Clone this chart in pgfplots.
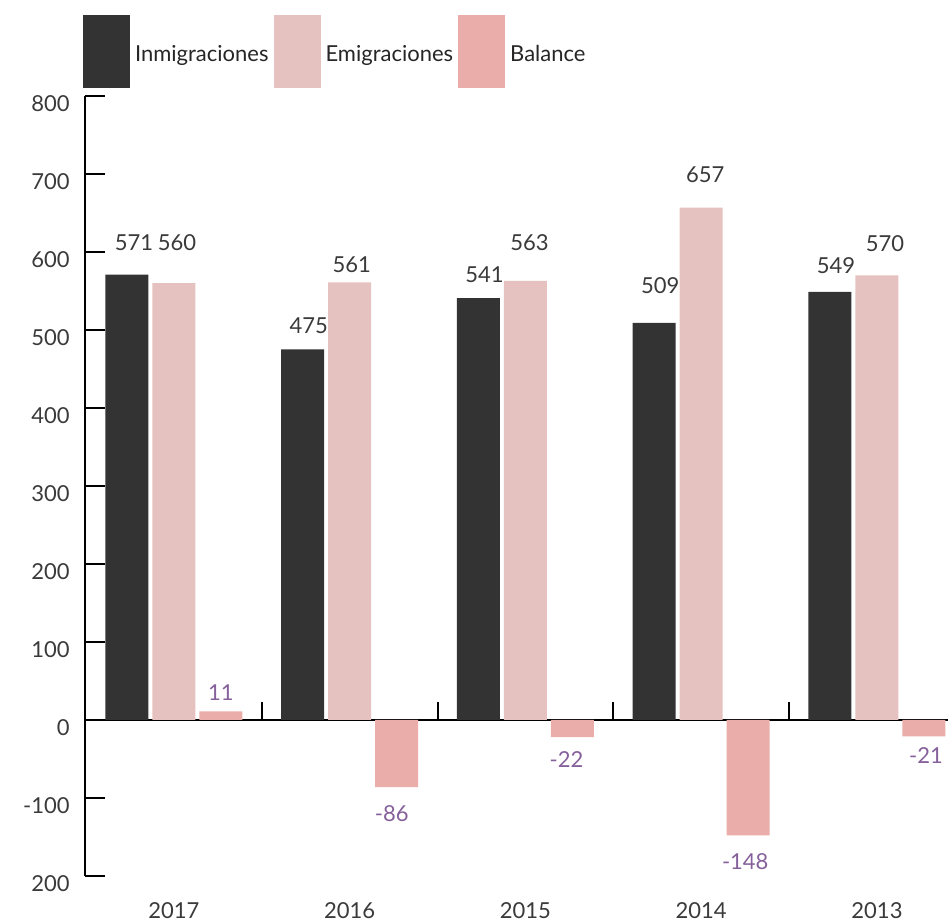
\documentclass[border=0pt]{standalone}
\usepackage{fontspec}
\setmainfont{Lato}
\usepackage{pgfplots}
\usepackage{pgfplotstable}
\pgfplotsset{compat=1.18}

\definecolor{inmig}{HTML}{333333}
\definecolor{emig}{HTML}{E5C2BF}
\definecolor{bal}{HTML}{EAADAA}
\definecolor{txt}{HTML}{3A3A3A}
\definecolor{baltxt}{HTML}{85609A}

% x, value, label shift (pt) for each series
\pgfplotstableread{
x imm idx idy emi edx edy bal bdx bdy
0 571 3.5 16   560 1.5 20.5 11   0    9.5
1 475 3   12   561 1   9    -86  -2.5 -13.5
2 541 3   11.5 563 2   19   -22  -3   -11
3 509 3   18.5 657 2   16.5 -148 -1.5 -13
4 549 3   13   570 4   16   -21  1    -9.5
}\datos

\newcommand{\lblfont}{\fontsize{11}{13}\selectfont}
\pgfplotsset{
  blk/.style={legend image code/.code={\fill[##1] (0pt,-16.5pt) rectangle (23.5pt,20pt);}},
}

\begin{document}
\begin{tikzpicture}
\begin{axis}[
    name=main, at={(0,0)}, anchor=south west,
    scale only axis, width=431.5pt, height=390pt,
    ybar=2pt, bar width=21.5pt,
    xmin=-0.506, xmax=4.404, ymin=-200, ymax=800,
    axis x line=bottom, axis y line=left, axis line style={-},
    x axis line style={draw=none},
    y axis line style={black, line width=1pt},
    xtick={0,...,4}, xticklabels={2017,2016,2015,2014,2013},
    xtick style={draw=none},
    ytick={-200,-100,...,800},
    yticklabels={200,-100,0,100,200,300,400,500,600,700,800},
    ytick style={black, line width=1pt},
    tick align=inside, major tick length=10pt,
    extra y ticks={0}, extra y tick labels={},
    extra y tick style={grid=major, major grid style={black, line width=1pt}},
    xticklabel style={font=\lblfont, text=txt, anchor=center, inner sep=0pt, yshift=-17.5pt},
    yticklabel style={font=\lblfont, text=txt, anchor=east, inner sep=0pt, xshift=-7.5pt, yshift=-4pt},
    legend columns=-1,
    legend style={draw=none, fill=none, at={(0,1)}, anchor=south west,
      xshift=-1pt, yshift=4pt, inner sep=0pt, outer sep=0pt,
      font=\lblfont, text=black!85, nodes={inner sep=0pt},
      /tikz/every odd column/.append style={column sep=2.5pt},
      /tikz/every even column/.append style={column sep=2.5pt}},
    every axis plot post/.append style={blk},
    clip=false,
]
\addplot[fill=inmig, draw=none, nodes near coords, point meta=explicit symbolic,
    visualization depends on={\thisrow{idx}\as\dx},
    visualization depends on={\thisrow{idy}\as\dy},
    every node near coord/.append style={text=txt, font=\lblfont, anchor=center,
      inner sep=0pt, xshift=\dx pt, yshift=\dy pt}]
    table[x=x, y=imm, meta=imm]{\datos};
\addplot[fill=emig, draw=none, nodes near coords, point meta=explicit symbolic,
    visualization depends on={\thisrow{edx}\as\dx},
    visualization depends on={\thisrow{edy}\as\dy},
    every node near coord/.append style={text=txt, font=\lblfont, anchor=center,
      inner sep=0pt, xshift=\dx pt, yshift=\dy pt}]
    table[x=x, y=emi, meta=emi]{\datos};
\addplot[fill=bal, draw=none, nodes near coords, point meta=explicit symbolic,
    visualization depends on={\thisrow{bdx}\as\dx},
    visualization depends on={\thisrow{bdy}\as\dy},
    every node near coord/.append style={text=baltxt, font=\lblfont, anchor=center,
      inner sep=0pt, xshift=\dx pt, yshift=\dy pt}]
    table[x=x, y=bal, meta=bal]{\datos};
\legend{Inmigraciones, Emigraciones, Balance}
\pgfplotsinvokeforeach{0.5,1.5,2.5,3.5}{
  \draw[black, line width=1pt] (axis cs:#1,0) -- ++(0pt,9pt);
}
\end{axis}
\pgfresetboundingbox
\path[use as bounding box] (-42.5pt,-24pt) rectangle (431.5pt,438pt);
\end{tikzpicture}
\end{document}
